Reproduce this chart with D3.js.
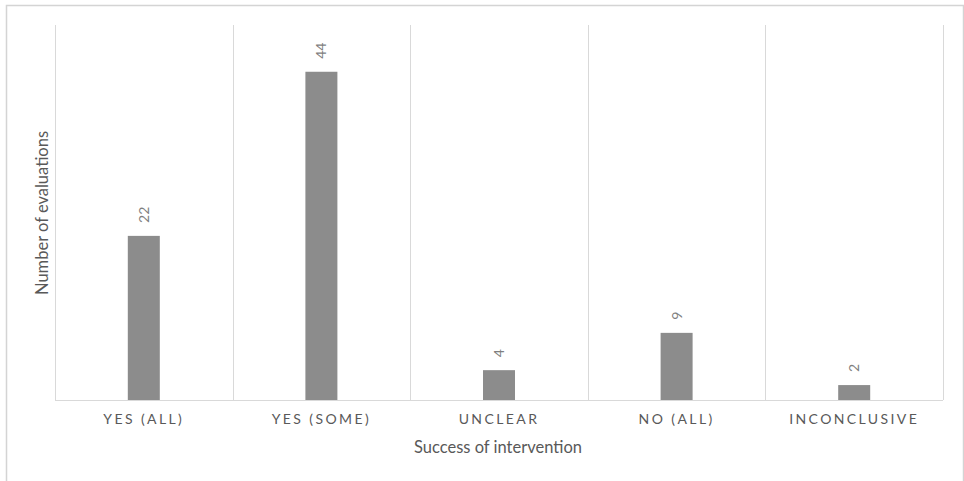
<!DOCTYPE html>
<html>
<head>
<meta charset="utf-8">
<script src="https://cdn.jsdelivr.net/npm/d3@7"></script>
<style>
  body { margin: 0; background: #fff; }
  text { font-family: Lato, "Open Sans", sans-serif; }
</style>
</head>
<body>
<div id="chart"></div>
<script>
var categories = ["YES (ALL)", "YES (SOME)", "UNCLEAR", "NO (ALL)", "INCONCLUSIVE"];
var values = [22, 44, 4, 9, 2];
var yMax = 50;

var W = 964, H = 481;
var margin = { top: 25, right: 21, bottom: 81, left: 55 };
var width = W - margin.left - margin.right,
    height = H - margin.top - margin.bottom;

var svg = d3.select("#chart").append("svg")
  .attr("width", W)
  .attr("height", H);

// outer frame
svg.append("rect")
  .attr("x", 6.5).attr("y", 5.5)
  .attr("width", 957).attr("height", 500)
  .attr("fill", "none")
  .attr("stroke", "#d4d4d4")
  .attr("stroke-width", 1.5);

var g = svg.append("g")
  .attr("transform", "translate(" + margin.left + "," + margin.top + ")");

var xx = d3.scaleBand().domain(categories).range([0, width]).padding(0);
var yy = d3.scaleLinear().domain([0, yMax]).range([height, 2]);

// vertical category separators
var edges = categories.map(function (c) { return xx(c); }).concat([width]);
g.selectAll(".sep").data(edges).enter().append("line")
  .attr("class", "sep")
  .attr("x1", function (d) { return Math.round(d) + 0.5; })
  .attr("x2", function (d) { return Math.round(d) + 0.5; })
  .attr("y1", 0).attr("y2", height)
  .attr("stroke", "#d9d9d9");

// baseline
g.append("line")
  .attr("x1", 0).attr("x2", width)
  .attr("y1", height + 0.5).attr("y2", height + 0.5)
  .attr("stroke", "#d9d9d9");

var barW = 32;
g.selectAll(".bar").data(values).enter().append("rect")
  .attr("class", "bar")
  .attr("fill", "#8c8c8c")
  .attr("x", function (d, i) { return xx(categories[i]) + xx.bandwidth() / 2 - barW / 2; })
  .attr("width", barW)
  .attr("y", function (d) { return yy(d); })
  .attr("height", function (d) { return height - yy(d); });

// value labels, rotated
g.selectAll(".val").data(values).enter().append("text")
  .attr("class", "val")
  .attr("transform", function (d, i) {
    var cx = xx(categories[i]) + xx.bandwidth() / 2;
    return "translate(" + (cx + 5) + "," + (yy(d) - 13) + ") rotate(-90)";
  })
  .attr("text-anchor", "start")
  .attr("font-size", "14px")
  .attr("fill", "#7f7f7f")
  .text(function (d) { return d; });

// category labels
var xAxis = g.append("g")
  .attr("transform", "translate(0," + height + ")")
  .call(d3.axisBottom(xx).tickSize(0).tickPadding(14));
xAxis.select(".domain").remove();
xAxis.selectAll("text")
  .attr("font-size", "14px")
  .attr("fill", "#595959")
  .attr("letter-spacing", "2.4px")
  .style("font-family", "Lato, 'Open Sans', sans-serif");

// axis titles
svg.append("text")
  .attr("x", 498).attr("y", 453)
  .attr("text-anchor", "middle")
  .attr("font-size", "16.5px")
  .attr("fill", "#595959")
  .text("Success of intervention");

svg.append("text")
  .attr("transform", "translate(48,213) rotate(-90)")
  .attr("text-anchor", "middle")
  .attr("font-size", "16.5px")
  .attr("fill", "#595959")
  .text("Number of evaluations");
</script>
</body>
</html>
